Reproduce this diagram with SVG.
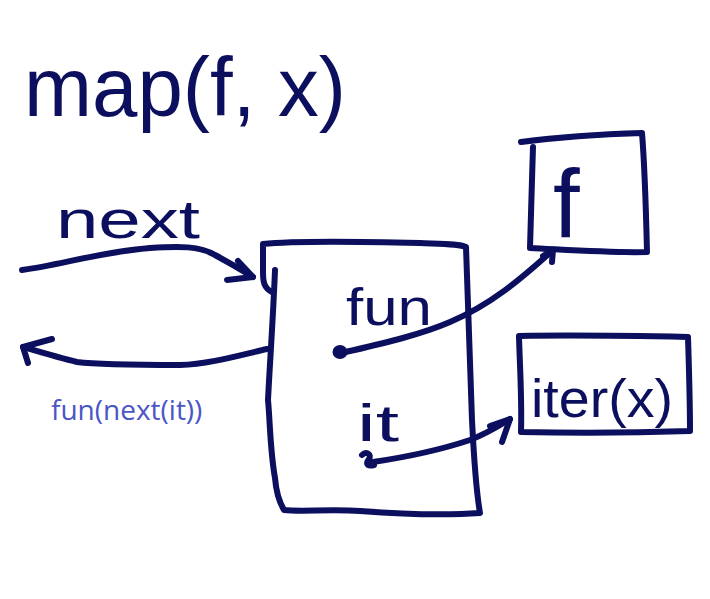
<svg xmlns="http://www.w3.org/2000/svg" width="710" height="599" viewBox="0 0 710 599">
<style>
.ink{fill:none;stroke:#0b0f5e;stroke-width:6;stroke-linecap:round;stroke-linejoin:round}
.hand{font-family:"Liberation Sans","DejaVu Sans",sans-serif;fill:#0b0f5e}
.lbl{font-family:"Open Sans","Noto Sans",sans-serif;fill:#4a55c6;font-size:28px}
</style>
<rect width="710" height="599" fill="#ffffff"/>
<g id="title">
<text class="hand" x="24" y="116" font-size="84" textLength="322" lengthAdjust="spacingAndGlyphs">map(f, x)</text>
</g>
<g id="main-box">
<path class="ink" d="M272,292 C264,288 263,282 263,272 L263,244 C300,240 380,242 420,243 C445,244 460,244 466,247 C468,300 470,360 472,420 C474,460 476,490 480,513 C440,516 400,514 360,511 C330,509 300,512 284,510 C278,500 276,490 275,478 C270,450 270,420 268,400 C270,360 273,320 275,270"/>
<text class="hand" x="346" y="325" font-size="52" textLength="86" lengthAdjust="spacingAndGlyphs">fun</text>
<text class="hand" x="357" y="441" font-size="52" textLength="42" lengthAdjust="spacingAndGlyphs">it</text>
<ellipse cx="340" cy="352" rx="6" ry="5.5" fill="#0b0f5e" stroke="#0b0f5e" stroke-width="3"/>
<path class="ink" d="M362,455 C366,451 372,454 369,459 C366,463 366,467 374,465"/>
</g>
<g id="f-box">
<path class="ink" d="M521,142 C560,137 610,134 642,133 C645,170 646,210 647,252 C610,253 570,250 530,248 C531,210 532,180 533,147"/>
<text class="hand" x="553" y="237" font-size="96">f</text>
</g>
<g id="iter-box">
<path class="ink" d="M519,336 C570,335 640,336 688,337 C689,370 690,400 690,431 C630,433 570,433 521,432 C522,400 520,370 519,337"/>
<text class="hand" x="531" y="417" font-size="54" textLength="142" lengthAdjust="spacingAndGlyphs">iter(x)</text>
</g>
<g id="labels">
<text class="hand" x="56" y="238" font-size="54" textLength="144" lengthAdjust="spacingAndGlyphs">next</text>
<text class="lbl" x="51" y="420">fun(next(it))</text>
</g>
<g id="connectors">
<path class="ink" d="M22,270 C60,265 100,252 150,248 C180,246 200,246 215,255 C230,263 245,272 253,277"/>
<path class="ink" d="M227,280 L253,277 L238,261"/>
<path class="ink" d="M267,349 C240,355 210,364 180,365 C140,365 100,365 77,362 C60,358 40,352 23,347"/>
<path class="ink" d="M52,339 L23,347 L28,363"/>
<path class="ink" d="M346,352 C380,344 420,335 450,322 C490,305 520,280 553,250"/>
<path class="ink" d="M543,256 L553,250 L552,262"/>
<path class="ink" d="M373,462 C400,458 440,450 470,440 C490,432 500,425 510,419"/>
<path class="ink" d="M490,426 L510,419 L502,442"/>
</g>
</svg>
